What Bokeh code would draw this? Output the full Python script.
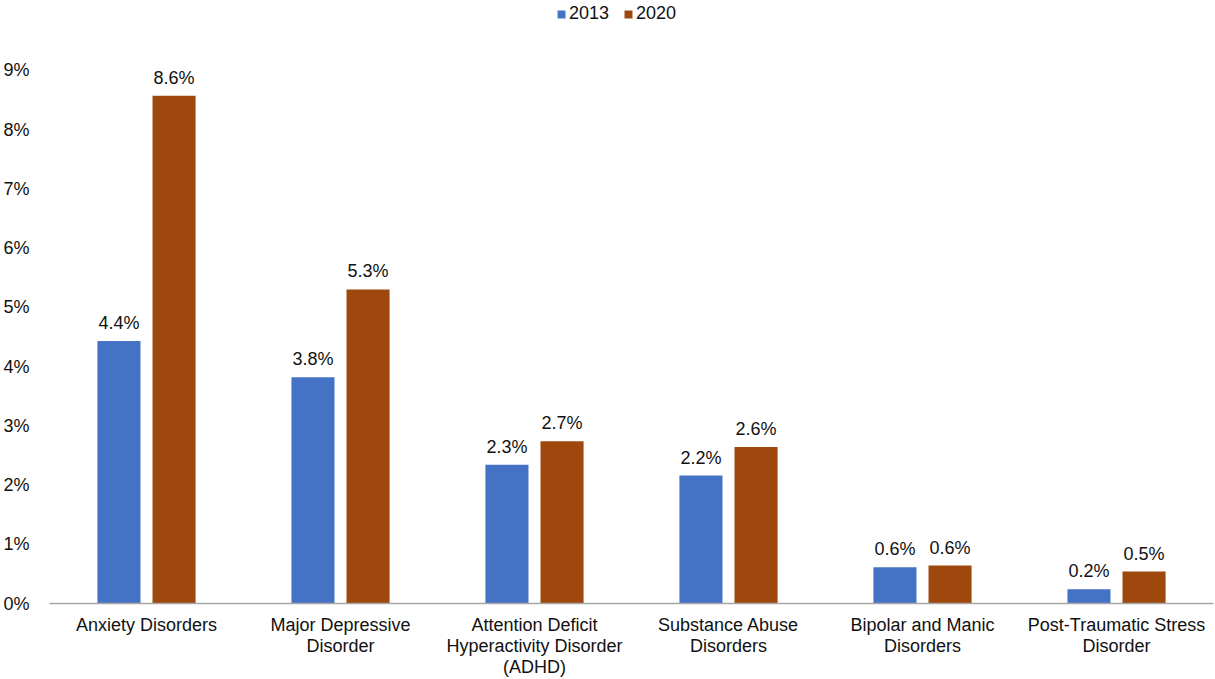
from bokeh.plotting import figure
from bokeh.models import ColumnDataSource, FixedTicker, Legend, LegendItem, Range1d
from bokeh.core.properties import value
from bokeh.embed import file_html
from bokeh.resources import INLINE

categories = ["Anxiety Disorders", "Major Depressive\nDisorder",
              "Attention Deficit\nHyperactivity Disorder\n(ADHD)",
              "Substance Abuse\nDisorders", "Bipolar and Manic\nDisorders",
              "Post-Traumatic Stress\nDisorder"]
series_names = ["2013", "2020"]
values_2013 = [4.43, 3.82, 2.34, 2.16, 0.61, 0.24]
values_2020 = [8.57, 5.30, 2.74, 2.64, 0.64, 0.54]
y_ticks = list(range(0, 10))

FONT = "Liberation Sans"
TXT = "#111111"
C13, C20 = "#4472C4", "#9E480E"
n = len(categories)
centers = [i + 0.5 for i in range(n)]
off = 0.142
bw = 0.222

W, H = 1215, 679
frame_left, frame_right, frame_bottom = 49, 1213, 605
# y axis max 9% sits at y=70px; frame extends to the top to host the legend
y_top = 9 * frame_bottom / (frame_bottom - 70)

p = figure(width=W, height=H, output_backend="svg", toolbar_location=None,
           x_range=Range1d(0, n), y_range=Range1d(0, y_top),
           min_border_left=frame_left, min_border_right=W - frame_right,
           min_border_top=0, min_border_bottom=H - frame_bottom)
p.outline_line_color = None
p.grid.visible = False
p.background_fill_color = "white"

s13 = ColumnDataSource(dict(x=[c - off for c in centers], top=values_2013,
                            lab=[f"{v:.1f}%" for v in values_2013]))
s20 = ColumnDataSource(dict(x=[c + off for c in centers], top=values_2020,
                            lab=[f"{v:.1f}%" for v in values_2020]))
r13 = p.vbar(x="x", top="top", width=bw, source=s13, fill_color=C13, line_color=None)
r20 = p.vbar(x="x", top="top", width=bw, source=s20, fill_color=C20, line_color=None)
for s in (s13, s20):
    p.text(x="x", y="top", text="lab", source=s, text_align="center", text_baseline="bottom",
           y_offset=-8, text_font=value(FONT), text_font_size="18px", text_color=TXT)

xa = p.xaxis[0]
xa.ticker = FixedTicker(ticks=centers)
xa.major_label_overrides = {c: lab for c, lab in zip(centers, categories)}
xa.major_tick_line_color = None
xa.minor_tick_line_color = None
xa.axis_line_color = "#A6A6A6"
xa.axis_line_width = 1.5
xa.major_label_text_font = FONT
xa.major_label_text_font_size = "18px"
xa.major_label_text_color = TXT
xa.major_label_text_line_height = 1.05
xa.major_label_standoff = 5

ya = p.yaxis[0]
ya.ticker = FixedTicker(ticks=y_ticks)
ya.major_label_overrides = {t: f"{t}%" for t in y_ticks}
ya.axis_line_color = None
ya.major_tick_line_color = None
ya.minor_tick_line_color = None
ya.major_label_text_font = FONT
ya.major_label_text_font_size = "18px"
ya.major_label_text_color = TXT
ya.major_label_standoff = 14

legend = Legend(items=[LegendItem(label=series_names[0], renderers=[r13]),
                       LegendItem(label=series_names[1], renderers=[r20])],
                orientation="horizontal", location=(556 - frame_left, frame_bottom - 26),
                glyph_width=10, glyph_height=10, label_text_font=FONT,
                label_text_font_size="18px", label_text_color=TXT, label_height=20,
                spacing=14, padding=0, margin=0, label_standoff=3,
                border_line_color=None, background_fill_alpha=0)
p.add_layout(legend, "center")

open("out.html", "w").write(file_html(p, INLINE))
